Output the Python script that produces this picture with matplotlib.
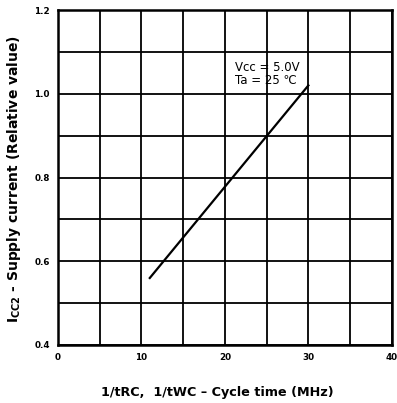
import matplotlib
matplotlib.use("Agg")
import matplotlib.pyplot as plt
import numpy as np

# Supply current vs. cycle frequency
freq_mhz = [11, 30]
icc2_rel = [0.56, 1.02]

x_ticks = [0, 10, 20, 30, 40]
y_ticks = [0.4, 0.6, 0.8, 1.0, 1.2]
x_grid = np.arange(0, 41, 5)
y_grid = np.round(np.arange(0.4, 1.21, 0.1), 2)

fig = plt.figure(figsize=(3.97, 4.03), dpi=100)
ax = fig.add_axes([0.146, 0.144, 0.841, 0.831])

ax.set_xlim(0, 40)
ax.set_ylim(0.4, 1.2)

for gx in x_grid:
    ax.axvline(gx, color="black", lw=1.3, zorder=1)
for gy in y_grid:
    ax.axhline(gy, color="black", lw=1.3, zorder=1)

ax.plot(freq_mhz, icc2_rel, color="black", lw=1.6, zorder=3)

ax.text(21.2, 1.062, "Vcc = 5.0V", fontsize=8.5, va="center", ha="left", zorder=4)
ax.text(21.2, 1.031, "Ta = 25 ℃", fontsize=8.5, va="center", ha="left", zorder=4)

for s in ax.spines.values():
    s.set_linewidth(1.8)

ax.set_xticks(x_ticks)
ax.set_xticklabels([str(v) for v in x_ticks], fontsize=6.3, fontweight="bold")
ax.set_yticks(y_ticks)
ax.set_yticklabels([f"{v:.1f}" for v in y_ticks], fontsize=6.3, fontweight="bold")
ax.tick_params(length=0, pad=6)

fig.text(0.035, 0.556, r"I$_{\mathregular{CC2}}$ - Supply current (Relative value)",
         rotation=90, ha="center", va="center", fontsize=10, fontweight="bold")
fig.text(0.547, 0.026, "1/tRC,  1/tWC – Cycle time (MHz)",
         ha="center", va="center", fontsize=9.2, fontweight="bold")

fig.savefig("out.png", dpi=100)
